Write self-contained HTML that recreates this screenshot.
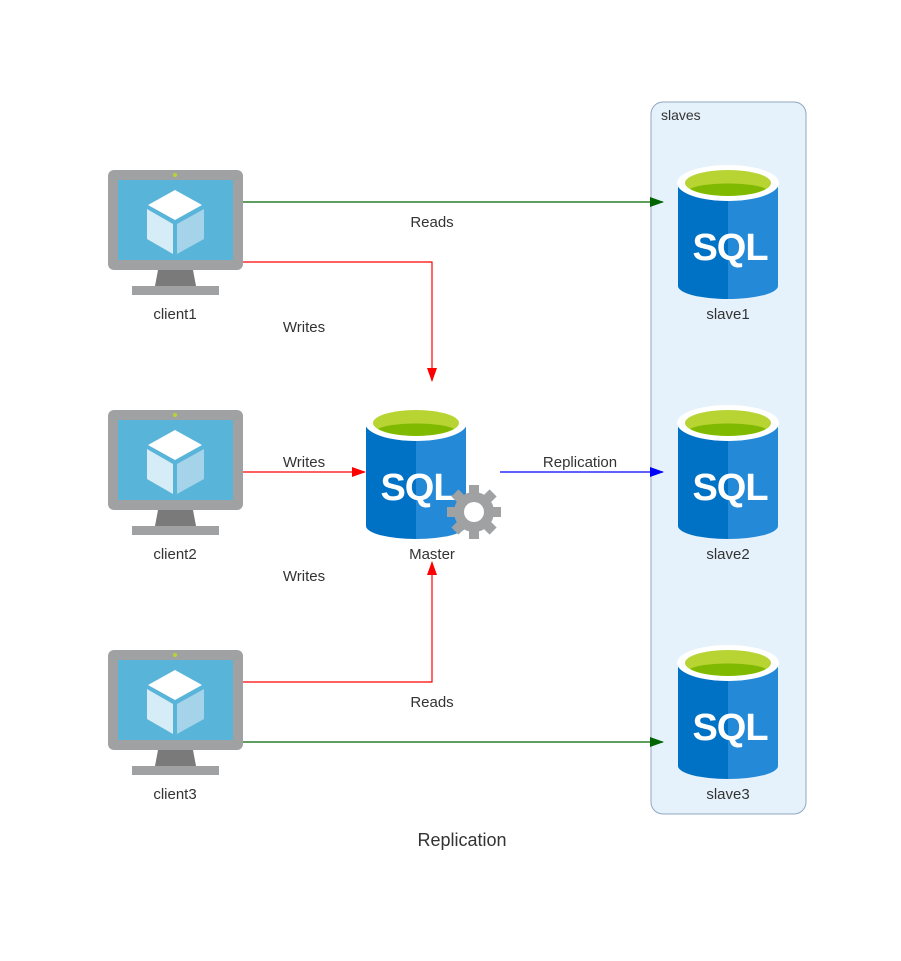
<!DOCTYPE html>
<html><head><meta charset="utf-8"><style>
html,body{margin:0;padding:0;background:#fff}
svg{display:block}
text{font-family:"Liberation Sans",sans-serif;fill:#333}
</style></head><body>
<svg width="901" height="961" viewBox="0 0 901 961" xmlns="http://www.w3.org/2000/svg">
<defs>
<marker id="ag" markerWidth="14" markerHeight="10" refX="13" refY="5" orient="auto" markerUnits="userSpaceOnUse"><path d="M0,0 L14,5 L0,10 Z" fill="#006400"/></marker>
<marker id="ar" markerWidth="14" markerHeight="10" refX="13" refY="5" orient="auto" markerUnits="userSpaceOnUse"><path d="M0,0 L14,5 L0,10 Z" fill="red"/></marker>
<marker id="ab" markerWidth="14" markerHeight="10" refX="13" refY="5" orient="auto" markerUnits="userSpaceOnUse"><path d="M0,0 L14,5 L0,10 Z" fill="blue"/></marker>
<g id="mon">
<rect x="0" y="0" width="135" height="100" rx="6" fill="#a0a1a2"/>
<circle cx="67" cy="5" r="2" fill="#b8d432"/>
<rect x="10" y="10" width="115" height="80" fill="#59b4d9"/>
<path d="M50,100 L85,100 L88,116 L47,116 Z" fill="#7a7a7a"/>
<rect x="24" y="116" width="87" height="9" fill="#a0a1a2"/>
<path d="M67,20 L94,35 L67,50 L40,35 Z" fill="#fff"/>
<path d="M39,39 L65,54 L65,84 L39,69 Z" fill="#d6edf7"/>
<path d="M69,54 L96,39 L96,69 L69,84 Z" fill="#a5d4ea"/>
</g>
<g id="cyl">
<path d="M-50,0 L-50,103 A50,13 0 0 0 0,116 L0,0 Z" fill="#0072c6"/>
<path d="M0,0 L0,116 A50,13 0 0 0 50,103 L50,0 Z" fill="#2489d6"/>
<ellipse cx="0" cy="0" rx="51" ry="18" fill="#fff"/>
<ellipse cx="0" cy="0" rx="43" ry="13" fill="#b8d432"/>
<path d="M-38,6 A40,8 0 0 1 38,6 A43,13 0 0 1 -38,6 Z" fill="#7fba00"/>
</g>
</defs>
<rect x="651" y="102" width="155" height="712" rx="12" fill="#e5f2fb" stroke="#8fa7bf"/>
<text x="661" y="120" font-size="14">slaves</text>

<use href="#mon" x="108" y="170"/>
<use href="#mon" x="108" y="410"/>
<use href="#mon" x="108" y="650"/>
<text x="175" y="319" font-size="15" text-anchor="middle">client1</text>
<text x="175" y="559" font-size="15" text-anchor="middle">client2</text>
<text x="175" y="799" font-size="15" text-anchor="middle">client3</text>

<use href="#cyl" x="728" y="183"/>
<use href="#cyl" x="728" y="423"/>
<use href="#cyl" x="728" y="663"/>
<use href="#cyl" x="416" y="423"/>
<g font-family="Liberation Sans,sans-serif" font-weight="bold" font-size="38" text-anchor="middle" letter-spacing="-1">
<text x="730" y="260" style="fill:#fff">SQL</text>
<text x="730" y="500" style="fill:#fff">SQL</text>
<text x="730" y="740" style="fill:#fff">SQL</text>
<text x="418" y="500" style="fill:#fff">SQL</text>
</g>
<g transform="translate(474,512)" fill="#a0a1a2">
<g>
<rect x="-5" y="-27" width="10" height="54"/>
<rect x="-5" y="-27" width="10" height="54" transform="rotate(45)"/>
<rect x="-5" y="-27" width="10" height="54" transform="rotate(90)"/>
<rect x="-5" y="-27" width="10" height="54" transform="rotate(135)"/>
</g>
<circle r="20"/>
<circle r="10" fill="#fff"/>
</g>
<text x="728" y="319" font-size="15" text-anchor="middle">slave1</text>
<text x="728" y="559" font-size="15" text-anchor="middle">slave2</text>
<text x="728" y="799" font-size="15" text-anchor="middle">slave3</text>
<text x="432" y="559" font-size="15" text-anchor="middle">Master</text>

<g fill="none" stroke-width="1.2">
<path d="M243,202 L663,202" stroke="#006400" marker-end="url(#ag)"/>
<path d="M243,262 L432,262 L432,381" stroke="red" marker-end="url(#ar)"/>
<path d="M243,472 L365,472" stroke="red" marker-end="url(#ar)"/>
<path d="M500,472 L663,472" stroke="blue" marker-end="url(#ab)"/>
<path d="M243,682 L432,682 L432,562" stroke="red" marker-end="url(#ar)"/>
<path d="M243,742 L663,742" stroke="#006400" marker-end="url(#ag)"/>
</g>
<g font-size="15" text-anchor="middle">
<text x="432" y="227">Reads</text>
<text x="304" y="332">Writes</text>
<text x="304" y="467">Writes</text>
<text x="580" y="467">Replication</text>
<text x="304" y="581">Writes</text>
<text x="432" y="707">Reads</text>
</g>
<text x="462" y="846" font-size="18" text-anchor="middle">Replication</text>
</svg>
</body></html>
